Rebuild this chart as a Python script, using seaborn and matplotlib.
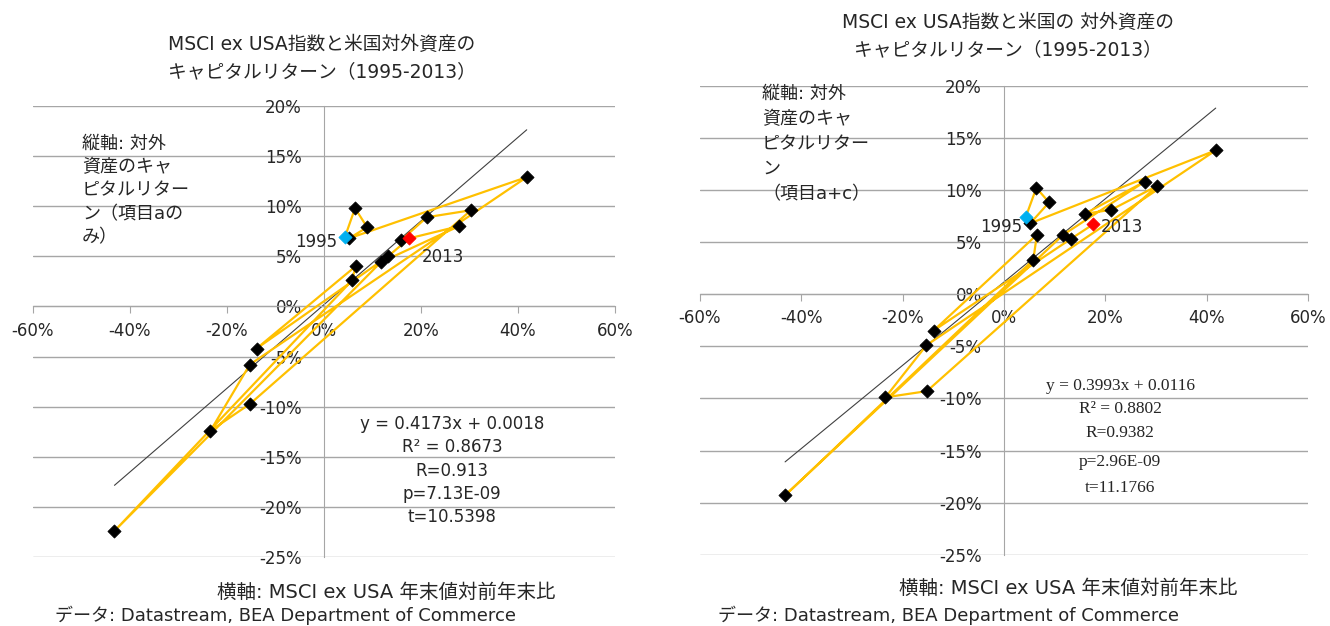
import matplotlib
matplotlib.use("Agg")
import matplotlib.pyplot as plt
import numpy as np
import pandas as pd
import seaborn as sns

# 年 / MSCI ex USA 年末値対前年末比 (%)
years = list(range(1995, 2014))
msci_x = [4.3, 6.4, 8.9, 5.2, 41.8, -15.3, -23.4, -15.2, 30.3, 21.2,
          15.9, 27.8, 11.7, -43.2, 5.8, 6.5, -13.9, 13.2, 17.6]
# 対外資産のキャピタルリターン (%)
ret_a = [6.9, 9.8, 7.9, 6.8, 12.9, -5.8, -12.4, -9.7, 9.6, 8.9,
         6.6, 8.0, 4.4, -22.4, 2.6, 4.0, -4.2, 5.0, 6.8]
ret_ac = [7.4, 10.2, 8.8, 6.8, 13.8, -4.9, -9.9, -9.3, 10.4, 8.1,
          7.7, 10.8, 5.7, -19.3, 3.3, 5.7, -3.5, 5.3, 6.7]

titles = ["MSCI ex USA指数と米国対外資産の\nキャピタルリターン（1995-2013）",
          "MSCI ex USA指数と米国の 対外資産の\nキャピタルリターン（1995-2013）"]
ylabels = ["縦軸: 対外\n資産のキャ\nピタルリター\nン（項目aの\nみ）",
           "縦軸: 対外\n資産のキャ\nピタルリター\nン\n（項目a+c）"]
stats = [["y = 0.4173x + 0.0018", "R² = 0.8673", "R=0.913", "p=7.13E-09", "t=10.5398"],
         ["y = 0.3993x + 0.0116", "R² = 0.8802", "R=0.9382", "p=2.96E-09", "t=11.1766"]]
fits = [(0.4173, 0.0018), (0.3993, 0.0116)]
xlabel = "横軸: MSCI ex USA 年末値対前年末比"
source = "データ: Datastream, BEA Department of Commerce"

sns.set_style("white")
plt.rcParams['font.family'] = ['DejaVu Sans', 'Noto Sans CJK JP']
plt.rcParams['font.size'] = 12
TXT = '#262626'
GRID = '#a6a6a6'

W, H = 1330, 626
fig = plt.figure(figsize=(W / 100, H / 100), dpi=100)


def px(x, y):
    return x / W, 1 - y / H


ax1 = fig.add_axes([0.0248, 0.1102, 0.4376, 0.7205])
ax2 = fig.add_axes([0.5263, 0.1138, 0.4571, 0.7493])

for i, (ax, yv) in enumerate([(ax1, ret_a), (ax2, ret_ac)]):
    df = pd.DataFrame({"year": years, "x": msci_x, "y": yv})
    # trend line over data range
    k, b = fits[i]
    xs = np.array([min(msci_x), max(msci_x)])
    sns.lineplot(x=xs, y=k * xs + b * 100, ax=ax, color='#404040', lw=0.8, zorder=2)
    # yearly path
    sns.lineplot(data=df, x="x", y="y", sort=False, ax=ax, color='#ffc000', lw=1.6,
                 estimator=None, zorder=3)
    sns.scatterplot(data=df.iloc[1:-1], x="x", y="y", ax=ax, marker='D', s=45,
                    color='black', edgecolor='black', zorder=4)
    sns.scatterplot(data=df.iloc[[0]], x="x", y="y", ax=ax, marker='D', s=45,
                    color='#00b0f0', edgecolor='#00b0f0', zorder=4)
    sns.scatterplot(data=df.iloc[[-1]], x="x", y="y", ax=ax, marker='D', s=45,
                    color='#ff0000', edgecolor='#ff0000', zorder=4)

    ax.set_xlim(-60, 60)
    ax.set_ylim(-25, 20)
    ax.set_xticks(range(-60, 61, 20))
    ax.set_yticks(range(-25, 21, 5))
    ax.set_xticklabels([f"{t}%" for t in range(-60, 61, 20)])
    ax.set_yticklabels([f"{t}%" for t in range(-25, 21, 5)])
    ax.set_xlabel("")
    ax.set_ylabel("")
    ax.yaxis.grid(True, color=GRID, lw=1)
    ax.set_axisbelow(True)
    for s in ['top', 'right']:
        ax.spines[s].set_visible(False)
    ax.spines['left'].set_position(('data', 0))
    ax.spines['bottom'].set_position(('data', 0))
    ax.spines['left'].set_color(GRID)
    ax.spines['bottom'].set_color(GRID)
    ax.tick_params(axis='x', direction='out', length=5, color=GRID, pad=6,
                   labelsize=12, labelcolor=TXT, bottom=True)
    ax.tick_params(axis='y', length=0, pad=16, labelsize=12, labelcolor=TXT)
    if ax.get_legend():
        ax.get_legend().remove()

# year labels
ax1.annotate("1995", (msci_x[0], ret_a[0]), xytext=(-8, -5), textcoords='offset pixels',
             ha='right', va='center', color=TXT)
ax1.annotate("2013", (msci_x[-1], ret_a[-1]), xytext=(12, -19), textcoords='offset pixels',
             ha='left', va='center', color=TXT)
ax2.annotate("1995", (msci_x[0], ret_ac[0]), xytext=(-3, -10), textcoords='offset pixels',
             ha='right', va='center', color=TXT)
ax2.annotate("2013", (msci_x[-1], ret_ac[-1]), xytext=(8, -3), textcoords='offset pixels',
             ha='left', va='center', color=TXT)

# titles
fig.text(*px(322, 58), titles[0], ha='center', va='center', linespacing=1.5,
         color=TXT, fontsize=13.5)
fig.text(*px(1008, 36), titles[1], ha='center', va='center', linespacing=1.5,
         color=TXT, fontsize=13.5)

# vertical axis notes
fig.text(*px(82, 135), ylabels[0], ha='left', va='top', linespacing=1.38,
         color=TXT, fontsize=13)
fig.text(*px(762, 85), ylabels[1], ha='left', va='top', linespacing=1.5,
         color=TXT, fontsize=13)

# regression stats
for yy, s in zip([424, 447, 471, 494, 517], stats[0]):
    fig.text(*px(452, yy), s, ha='center', va='center', color=TXT)
for yy, s in zip([386, 409, 433, 462, 488], stats[1]):
    fig.text(*px(1120, yy), s, ha='center', va='center', color=TXT,
             family=['Liberation Serif', 'DejaVu Serif'], fontsize=12.5)

# axis caption and source
fig.text(*px(386, 592), xlabel, ha='center', va='center', color=TXT, fontsize=14)
fig.text(*px(55, 615), source, ha='left', va='center', color=TXT, fontsize=13)
fig.text(*px(1068, 588), xlabel, ha='center', va='center', color=TXT, fontsize=14)
fig.text(*px(718, 615), source, ha='left', va='center', color=TXT, fontsize=13)

fig.savefig("out.png", dpi=100)
